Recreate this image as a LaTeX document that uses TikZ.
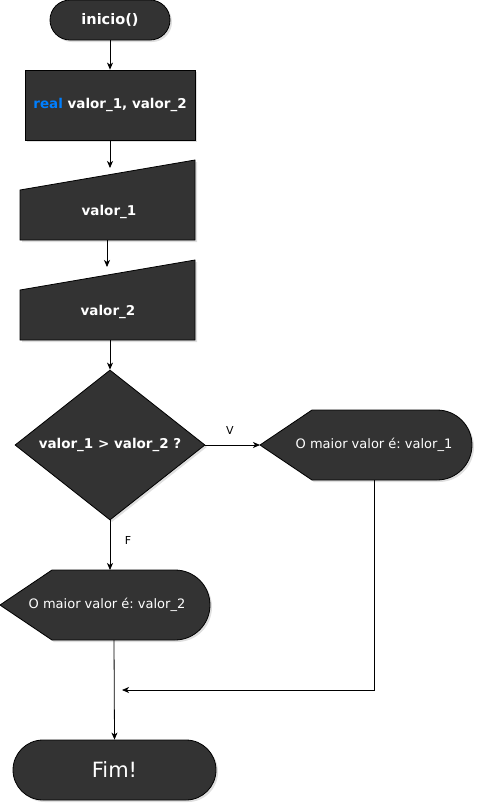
\documentclass[tikz,border=0pt]{standalone}
\usepackage{fontspec}
\setmainfont{DejaVu Sans}
\frenchspacing
\usetikzlibrary{shapes.geometric,arrows.meta,shadows}
\definecolor{cinza}{HTML}{333333}
\definecolor{azul}{HTML}{007FFF}
\tikzset{
  forma/.style={fill=cinza, draw=black, line width=0.8pt,
    drop shadow={shadow xshift=2pt, shadow yshift=-2pt, opacity=0.25}},
  terminal/.style={forma, rectangle, text=white, font=\bfseries\fontsize{14.5}{16}\selectfont},
  processo/.style={forma, rectangle, text=white, font=\bfseries\fontsize{13.5}{15}\selectfont},
  decisao/.style={forma, diamond, aspect=1.27, inner sep=0pt, text=white, font=\bfseries\fontsize{13.5}{15}\selectfont},
  texto/.style={text=white, font=\bfseries\fontsize{13.5}{15}\selectfont},
  textosaida/.style={text=white, font=\fontsize{13}{15}\selectfont},
  rotulo/.style={text=black, font=\fontsize{11}{13}\selectfont},
  seta/.style={draw=black, line width=0.8pt, -{Stealth[length=7pt,width=6pt,inset=2pt]}},
}

\begin{document}
\begin{tikzpicture}[x=1pt,y=-1pt]
\useasboundingbox (0,0) rectangle (487,812);

    %%% Inicio e declaracao %%%
    \node[terminal, minimum width=120pt, minimum height=40pt, rounded corners=20pt] (inicio) at (110,20) {inicio()};
    \node[processo, minimum width=170pt, minimum height=70pt] (decl) at (110,105) {\textcolor{azul}{real} valor\_1, valor\_2};

    %%% Leituras %%%
    \draw[forma] (20,190) -- (195,160) -- (195,240) -- (20,240) -- cycle;
    \node[texto] (leit1) at (109,212) {valor\_1};
    \coordinate (leit1topo) at (110,168);   \coordinate (leit1base) at (107,240);

    \draw[forma] (20,290) -- (195,260) -- (195,340) -- (20,340) -- cycle;
    \node[texto] (leit2) at (108,312) {valor\_2};
    \coordinate (leit2topo) at (107,267);   \coordinate (leit2base) at (110,340);

    %%% Decisao %%%
    \node[decisao, minimum width=190pt, minimum height=150pt] (dec) at (110,445) {valor\_1 > valor\_2 ?};

    %%% Saidas %%%
    \draw[forma] (260,445) -- (312,410) -- (437,410) arc[start angle=-90, end angle=90, radius=35] -- (312,480) -- cycle;
    \node[textosaida] (saida1) at (374,445) {O maior valor é: valor\_1};
    \coordinate (saida1ponta) at (260,445); \coordinate (saida1base) at (374,480);

    \draw[forma] (0,605) -- (52,570) -- (175,570) arc[start angle=-90, end angle=90, radius=35] -- (52,640) -- cycle;
    \node[textosaida] (saida2) at (107,605) {O maior valor é: valor\_2};
    \coordinate (saida2topo) at (110,570);  \coordinate (saida2base) at (114,640);

    %%% Fim %%%
    \node[terminal, font=\fontsize{21}{24}\selectfont, minimum width=203pt, minimum height=60pt, rounded corners=30pt] (fim) at (114.5,770) {Fim!};
    \coordinate (juncao) at (122,690);

    %%% Setas %%%
    \draw[seta] (inicio) -- (decl);
    \draw[seta] (decl.south) -- (leit1topo);
    \draw[seta] (leit1base) -- (leit2topo);
    \draw[seta] (leit2base) -- (dec.north);
    \draw[seta] (dec.east) -- (saida1ponta);     \node[rotulo] (v) at (230,430) {V};
    \draw[seta] (dec.south) -- (saida2topo);     \node[rotulo] (f) at (128,540) {F};
    \draw[seta] (saida1base) |- (juncao);
    \draw[seta] (saida2base) -- (fim.north);

\end{tikzpicture}
\end{document}
